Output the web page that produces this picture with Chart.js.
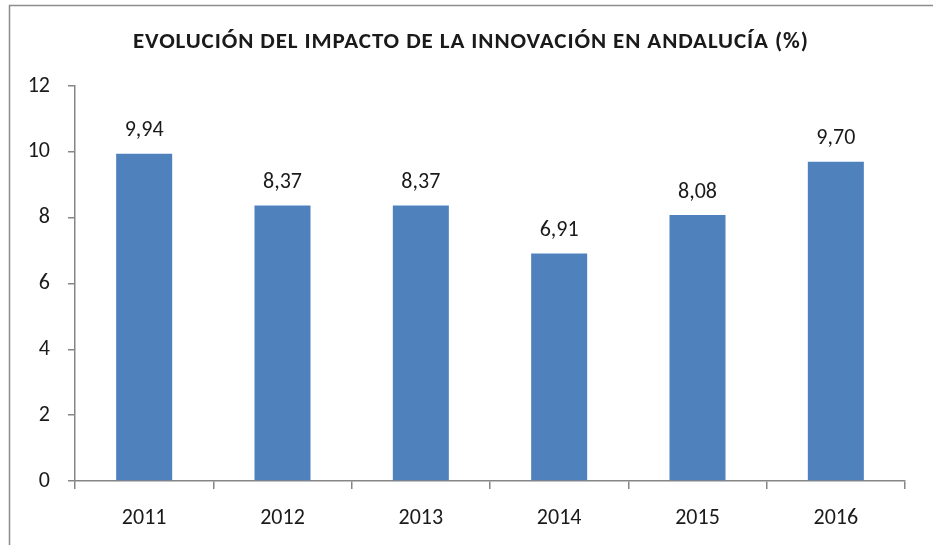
<!DOCTYPE html>
<html>
<head>
<meta charset="utf-8">
<style>
  html, body { margin: 0; padding: 0; background: #fff; }
  #wrap { width: 933px; height: 545px; }
</style>
<script src="https://cdn.jsdelivr.net/npm/chart.js@4.4.1/dist/chart.umd.min.js"></script>
</head>
<body>
<div id="wrap"><canvas id="impactChart" width="933" height="545"></canvas></div>
<script>
// datos del gráfico
const years = ['2011', '2012', '2013', '2014', '2015', '2016'];
const impacto = [9.94, 8.37, 8.37, 6.91, 8.08, 9.70];
const yTicks = [0, 2, 4, 6, 8, 10, 12];
const titulo = 'EVOLUCIÓN DEL IMPACTO DE LA INNOVACIÓN EN ANDALUCÍA (%)';

const FONT = 'Carlito, Lato, sans-serif';

// marco gris (recortado por la derecha y por abajo, como en el original)
const framePlugin = {
  id: 'frame',
  beforeDraw(chart) {
    const ctx = chart.ctx;
    ctx.save();
    ctx.fillStyle = '#fff';
    ctx.fillRect(0, 0, chart.width, chart.height);
    ctx.strokeStyle = '#8c8c8c';
    ctx.lineWidth = 1.5;
    ctx.strokeRect(9.5, 5.5, 2000, 2000);
    ctx.restore();
  },
  afterDraw(chart) {
    // título centrado como en la imagen, ajustado a su ancho
    const ctx = chart.ctx;
    ctx.save();
    ctx.font = 'bold 23px ' + FONT;
    ctx.fillStyle = '#1a1a1a';
    ctx.textBaseline = 'middle';
    const w = ctx.measureText(titulo).width;
    const target = 675;
    ctx.letterSpacing = ((target - w) / (titulo.length - 1)).toFixed(2) + 'px';
    ctx.textAlign = 'left';
    ctx.fillText(titulo, 133, 42);
    ctx.restore();
  }
};

// etiquetas con el valor encima de cada barra
const valueLabels = {
  id: 'valueLabels',
  afterDatasetsDraw(chart) {
    const ctx = chart.ctx;
    const meta = chart.getDatasetMeta(0);
    ctx.save();
    ctx.font = '22px ' + FONT;
    ctx.fillStyle = '#1a1a1a';
    ctx.textAlign = 'center';
    ctx.textBaseline = 'middle';
    meta.data.forEach((bar, i) => {
      const txt = impacto[i].toFixed(2).replace('.', ',');
      ctx.fillText(txt, bar.x, bar.y - 23);
    });
    ctx.restore();
  }
};

new Chart(document.getElementById('impactChart'), {
  type: 'bar',
  data: {
    labels: years,
    datasets: [{
      data: impacto,
      backgroundColor: '#4f81bd',
      borderWidth: 0,
      barPercentage: 0.405,
      categoryPercentage: 1
    }]
  },
  options: {
    responsive: false,
    animation: false,
    layout: { padding: { left: 0, right: 28, top: 86, bottom: 0 } },
    plugins: {
      legend: { display: false },
      tooltip: { enabled: false },
      title: { display: false }
    },
    scales: {
      x: {
        border: { color: '#868686', width: 1.5 },
        grid: { drawOnChartArea: false, tickLength: 8, color: '#868686', lineWidth: 1.5 },
        ticks: { color: '#1a1a1a', font: { family: FONT, size: 22 }, padding: 16 },
        afterFit(scale) { scale.height = 64; }
      },
      y: {
        min: 0,
        max: 12,
        border: { color: '#868686', width: 1.5 },
        grid: { drawOnChartArea: false, tickLength: 7, color: '#868686', lineWidth: 1.5 },
        afterBuildTicks(scale) { scale.ticks = yTicks.map(v => ({ value: v })); },
        ticks: { color: '#1a1a1a', font: { family: FONT, size: 22 }, padding: 18 },
        afterFit(scale) { scale.width = 75; }
      }
    }
  },
  plugins: [framePlugin, valueLabels]
});
</script>
</body>
</html>
